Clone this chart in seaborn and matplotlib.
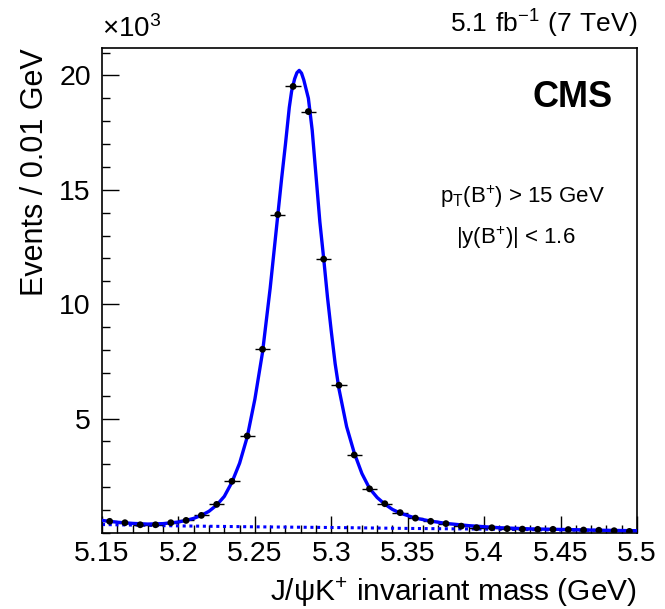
import numpy as np
import pandas as pd
import matplotlib
matplotlib.use("Agg")
import matplotlib.pyplot as plt
from matplotlib.ticker import MultipleLocator
import seaborn as sns

# data (events in units of 10^3)
bin_centers = [5.155, 5.165, 5.175, 5.185, 5.195, 5.205, 5.215, 5.225, 5.235, 5.245,
               5.255, 5.265, 5.275, 5.285, 5.295, 5.305, 5.315, 5.325, 5.335, 5.345,
               5.355, 5.365, 5.375, 5.385, 5.395, 5.405, 5.415, 5.425, 5.435, 5.445,
               5.455, 5.465, 5.475, 5.485, 5.495]
events = [0.51, 0.45, 0.36, 0.36, 0.45, 0.55, 0.77, 1.25, 2.26, 4.24,
          8.03, 13.92, 19.52, 18.42, 11.97, 6.46, 3.41, 1.93, 1.28, 0.89,
          0.65, 0.51, 0.41, 0.30, 0.23, 0.23, 0.19, 0.17, 0.16, 0.16,
          0.15, 0.13, 0.12, 0.10, 0.07]
bin_half = 0.005

# fit curve
fit_x = [5.150, 5.160, 5.170, 5.180, 5.190, 5.200, 5.205, 5.210, 5.215, 5.220,
         5.225, 5.230, 5.235, 5.240, 5.245, 5.250, 5.255, 5.260, 5.265, 5.2675,
         5.270, 5.2725, 5.274, 5.276, 5.2775, 5.279, 5.2805, 5.282, 5.2835, 5.285,
         5.2875, 5.290, 5.2925, 5.295, 5.2975, 5.300, 5.3025, 5.305, 5.310, 5.315,
         5.320, 5.325, 5.330, 5.335, 5.340, 5.345, 5.355, 5.365, 5.375, 5.390,
         5.410, 5.430, 5.455, 5.475, 5.500]
fit_y = [0.55, 0.47, 0.42, 0.39, 0.41, 0.48, 0.55, 0.64, 0.77, 0.95,
         1.22, 1.60, 2.22, 3.05, 4.20, 5.85, 7.90, 10.70, 13.90, 15.50,
         17.00, 18.60, 19.30, 19.85, 20.12, 20.22, 20.10, 19.80, 19.40, 19.00,
         17.60, 15.60, 13.60, 12.00, 10.30, 8.80, 7.40, 6.30, 4.65, 3.50,
         2.60, 1.95, 1.55, 1.26, 1.03, 0.87, 0.65, 0.52, 0.42, 0.32,
         0.23, 0.18, 0.15, 0.12, 0.10]

# background component
bkg_x = [5.15, 5.20, 5.25, 5.30, 5.35, 5.40, 5.45, 5.50]
bkg_y = [0.37, 0.31, 0.27, 0.24, 0.20, 0.17, 0.13, 0.10]

sns.set_style("ticks")
plt.rcParams['font.family'] = ['Liberation Sans', 'DejaVu Sans']
plt.rcParams['mathtext.fontset'] = 'custom'
plt.rcParams['mathtext.rm'] = 'Liberation Sans'
plt.rcParams['text.color'] = 'black'
plt.rcParams['axes.labelcolor'] = 'black'
plt.rcParams['xtick.color'] = 'black'
plt.rcParams['ytick.color'] = 'black'

fig = plt.figure(figsize=(6.65, 6.09), dpi=100)
ax = fig.add_axes([0.1534, 0.1248, 0.8046, 0.7964])

df_fit = pd.DataFrame({'m': fit_x, 'n': fit_y})
df_bkg = pd.DataFrame({'m': bkg_x, 'n': bkg_y})
df_data = pd.DataFrame({'m': bin_centers, 'n': events})

sns.lineplot(data=df_bkg, x='m', y='n', ax=ax, color='#0000ff', lw=2.2,
             linestyle=(0, (1, 1.2)), zorder=2)
ax.errorbar(df_data['m'], df_data['n'], xerr=bin_half, fmt='none',
            ecolor='black', elinewidth=1.0, zorder=3)
sns.lineplot(data=df_fit, x='m', y='n', ax=ax, color='#0000ff', lw=2.4, zorder=4)
sns.scatterplot(data=df_data, x='m', y='n', ax=ax, color='black', s=24,
                edgecolor='none', zorder=5)

ax.set_xlim(5.15, 5.5)
ax.set_ylim(0, 21.2)
ax.xaxis.set_minor_locator(MultipleLocator(0.01))
ax.yaxis.set_minor_locator(MultipleLocator(1))
ax.set_yticks([5, 10, 15, 20])
ax.set_xticks([5.15, 5.2, 5.25, 5.3, 5.35, 5.4, 5.45, 5.5])
ax.set_xticklabels(['5.15', '5.2', '5.25', '5.3', '5.35', '5.4', '5.45', '5.5'])
ax.tick_params(which='both', direction='in', top=False, right=False,
               labelsize=20.5, color='black', width=1.0)
ax.tick_params(which='major', length=12, pad=8)
ax.tick_params(axis='x', which='major', pad=6)
ax.tick_params(which='minor', length=6)
for s in ax.spines.values():
    s.set_linewidth(1.2)
    s.set_color('black')

ax.set_xlabel(r'J/ψ$\mathregular{K^{+}}$ invariant mass (GeV)', fontsize=21.5,
              ha='right', va='baseline')
ax.xaxis.set_label_coords(1.0, -0.14)
ax.set_ylabel('Events / 0.01 GeV', fontsize=22, loc='top', labelpad=7)

fig.text(0.1534, 0.93, r'$\mathregular{\times10^{3}}$', fontsize=20, ha='left', va='bottom')
fig.text(0.958, 0.935, r'$\mathregular{5.1\ fb^{-1}\ (7\ TeV)}$', fontsize=19,
         ha='right', va='bottom')
ax.text(0.955, 0.935, 'CMS', transform=ax.transAxes, fontsize=26, fontweight='bold',
        ha='right', va='top')
ax.text(0.785, 0.693, r'$\mathregular{p_{T}(B^{+})}$ > 15 GeV', transform=ax.transAxes,
        fontsize=16, ha='center', va='center')
ax.text(0.774, 0.608, r'$\mathregular{|y(B^{+})|}$ < 1.6', transform=ax.transAxes,
        fontsize=16, ha='center', va='center')

fig.savefig('out.png', dpi=100)
